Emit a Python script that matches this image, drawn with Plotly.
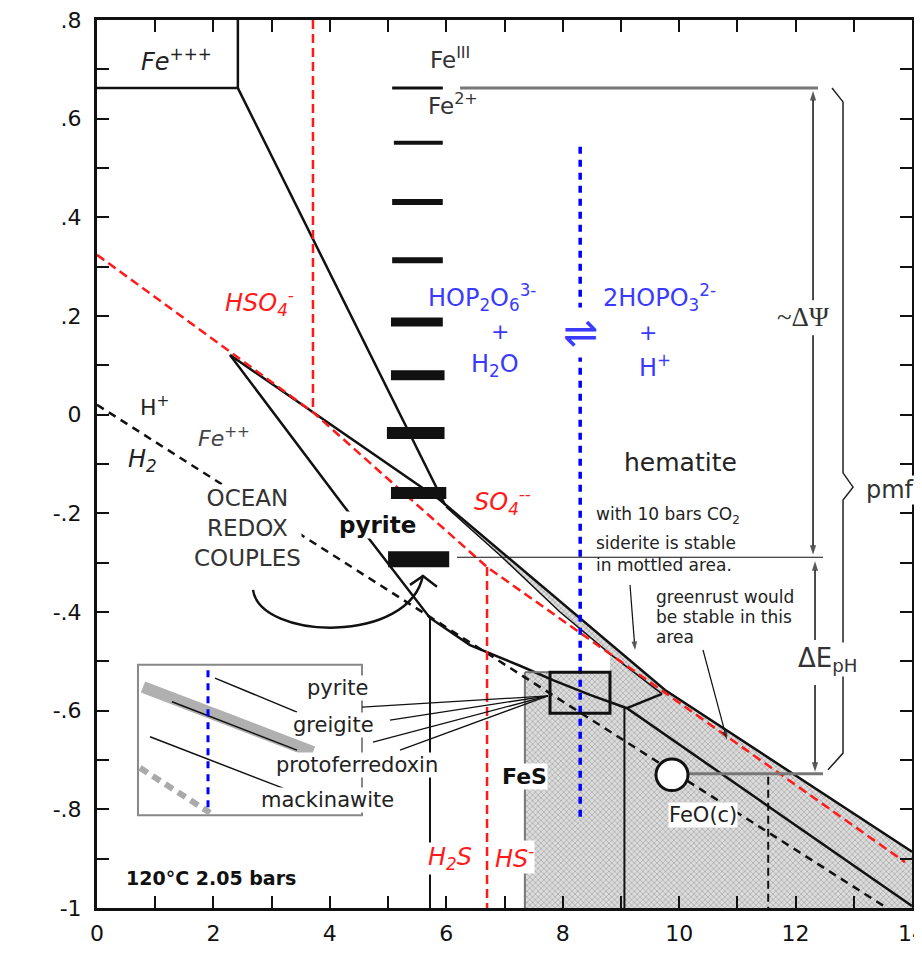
import plotly.graph_objects as go

# ---------------- data (x = pH, y = Eh / volts) ----------------
fe3_box_ph = [0.0, 2.42, 2.42]
fe3_box_eh = [0.662, 0.662, 0.80]

fe2_hem_ph = [2.42, 5.98]
fe2_hem_eh = [0.662, -0.183]

upper_ph = [2.285, 5.892, 9.757, 14.0]
upper_eh = [0.121, -0.173, -0.558, -0.886]

lower_ph = [2.285, 4.226, 5.72, 6.407, 7.266, 7.833, 8.469, 9.104, 14.0]
lower_eh = [0.121, -0.183, -0.412, -0.467, -0.509, -0.538, -0.568, -0.595, -0.996]

band_ph = [5.995, 6.923, 7.953, 8.812, 9.706]
band_eh = [-0.187, -0.285, -0.400, -0.485, -0.566]

kink_ph = [9.104, 9.706]
kink_eh = [-0.595, -0.566]

sulfur_ph = [0.0, 3.71, 6.70, 13.88]
sulfur_eh = [0.324, 0.005, -0.309, -0.907]

water_ph = [0.0, 13.57]
water_eh = [0.020, -1.0]

hatch_ph = [5.995, 9.757, 14.0, 14.0, 7.35, 7.35, 8.812, 8.812, 7.953, 6.923, 5.995]
hatch_eh = [-0.185, -0.558, -0.886, -1.0, -1.0, -0.522, -0.522, -0.485, -0.400, -0.285, -0.187]

pyr_fes_ph = 5.72
pyr_fes_eh = [-0.412, -1.0]
fes_left_ph = 7.35
fes_left_eh = [-0.522, -1.0]
fes_top_ph = [7.35, 7.782]
fes_top_eh = [-0.522, -0.522]
fes_right_ph = 9.06
fes_right_eh = [-0.595, -1.0]
feo_ph = 11.53
feo_eh = [-0.734, -1.0]

hso4_ph = 3.71
hso4_eh = [0.80, 0.005]
h2s_ph = 6.70
h2s_eh = [-0.309, -1.0]
phos_ph = 8.30
phos_eh = [0.543, -0.822]

# potential scale bars
bar_eh = [0.662, 0.551, 0.431, 0.313, 0.188, 0.080, -0.037, -0.159, -0.293]
bar_ph_lo = [5.07, 5.10, 5.07, 5.07, 5.05, 5.05, 4.98, 5.05, 5.00]
bar_ph_hi = [5.94, 5.94, 5.94, 5.94, 5.94, 5.97, 5.97, 6.00, 6.05]
bar_px = [3, 4, 6, 6, 9, 10, 12, 12, 16]

fe2_ref_ph = [6.236, 12.385]
fe2_ref_eh = [0.662, 0.662]
siderite_ref_ph = [6.184, 12.471]
siderite_ref_eh = [-0.289, -0.289]
feo_ref_ph = [9.877, 12.471]
feo_ref_eh = [-0.728, -0.728]

brace_ph = [12.626, 12.815, 12.815, 12.987, 12.815, 12.815, 12.557]
brace_eh = [0.662, 0.634, -0.118, -0.147, -0.173, -0.686, -0.720]

zoom_box_ph = [7.782, 8.812]
zoom_box_eh = [-0.605, -0.522]
inset_ph = [0.704, 4.552]
inset_eh = [-0.812, -0.507]

x_ticks = list(range(0, 15, 2))
x_ticktext = [str(v) for v in x_ticks]
y_ticks = [round(-1 + 0.2 * i, 1) for i in range(10)]


def ylab(v):
    if abs(v) < 1e-9:
        return "0"
    if abs(v) == 1:
        return "-1"
    return f"{v:.1f}".replace("0.", ".")


y_ticktext = [ylab(v) for v in y_ticks]

BLACK = "#111111"
RED = "#ff1a1a"
BLUE = "#0000ff"
TBLUE = "#3a3aff"
FONT = "DejaVu Sans"

fig = go.Figure()


def line(x, y, color=BLACK, width=2.5, dash=None):
    fig.add_trace(go.Scatter(x=x, y=y, mode="lines", hoverinfo="skip",
                             line=dict(color=color, width=width, dash=dash)))


def arrow(x, y, ax, ay, width=1.5, size=10):
    fig.add_trace(go.Scatter(x=[ax, x], y=[ay, y], mode="lines+markers", hoverinfo="skip",
                             line=dict(color=BLACK, width=width),
                             marker=dict(symbol="arrow", angleref="previous", size=[0, size],
                                         color=BLACK, line=dict(width=0))))


# hatched (mottled) region
fig.add_trace(go.Scatter(x=hatch_ph, y=hatch_eh, mode="lines", fill="toself",
                         fillcolor="#d8d8d8", line=dict(width=0), hoverinfo="skip",
                         fillpattern=dict(shape="x", fgcolor="#7a7a7a", bgcolor="#dcdcdc",
                                          size=4, solidity=0.35)))

# boundaries
line(fe3_box_ph, fe3_box_eh)
line(fe2_hem_ph, fe2_hem_eh)
line(upper_ph, upper_eh)
line(lower_ph, lower_eh)
line(band_ph, band_eh, width=1.5)
line(kink_ph, kink_eh)
line([pyr_fes_ph] * 2, pyr_fes_eh, width=2)
line([fes_left_ph] * 2, fes_left_eh, color="#777777", width=2)
line(fes_top_ph, fes_top_eh, color="#777777", width=2)
line([fes_right_ph] * 2, fes_right_eh, width=2)
line([feo_ph] * 2, feo_eh, width=2, dash="8px,5px")

line(water_ph, water_eh, width=2.5, dash="8px,6px")
line(sulfur_ph, sulfur_eh, color=RED, width=2.5, dash="9px,5px")
line([hso4_ph] * 2, hso4_eh, color=RED, width=2.5, dash="9px,5px")
line([h2s_ph] * 2, h2s_eh, color=RED, width=2.5, dash="9px,5px")
line([phos_ph] * 2, phos_eh, color=BLUE, width=3.5, dash="7px,6px")

# reference lines
line(fe2_ref_ph, fe2_ref_eh, color="#777777", width=3)
line(siderite_ref_ph, siderite_ref_eh, width=1.2)
line(feo_ref_ph, feo_ref_eh, color="#777777", width=3)
line(brace_ph, brace_eh, color="#222222", width=1.5)

# scale bars
for e, lo, hi, w in zip(bar_eh, bar_ph_lo, bar_ph_hi, bar_px):
    line([lo, hi], [e, e], width=w)

# inset
inset_gray_band = ([0.790, 3.710], [-0.552, -0.684])
inset_black = ([1.288, 3.436], [-0.582, -0.680])
inset_thin = ([0.910, 3.195], [-0.653, -0.757])
inset_ptr = ([2.027, 3.436], [-0.534, -0.603])
inset_gdash = ([0.739, 1.941], [-0.716, -0.807])
inset_blue = ([1.907, 1.907], [-0.518, -0.801])
line(*inset_gray_band, color="#b0b0b0", width=12)
line(*inset_black, width=1.5)
line(*inset_thin, width=1.5)
line(*inset_ptr, width=1.5)
line(*inset_gdash, color="#aaaaaa", width=6, dash="9px,6px")
line(*inset_blue, color=BLUE, width=3, dash="7px,6px")

conv = (7.747, -0.570)
ptr_starts = [(4.552, -0.593), (5.033, -0.619), (4.741, -0.664), (5.205, -0.680)]
for sx, sy in ptr_starts:
    line([sx, conv[0]], [sy, conv[1]], width=1.3)

# curved arrow chevron
line([5.377, 5.600, 5.840], [-0.345, -0.327, -0.349], width=2.5)

# arrows
arrow(12.30, 0.656, 12.30, 0.232)
arrow(12.30, -0.284, 12.30, 0.161)
arrow(12.334, -0.297, 12.334, -0.457)
arrow(12.334, -0.724, 12.334, -0.548)
arrow(9.242, -0.477, 9.156, -0.345, width=1.2, size=9)
arrow(10.822, -0.659, 10.41, -0.477, width=1.2, size=9)

shapes = [
    dict(type="rect", xref="x", yref="y", x0=zoom_box_ph[0], x1=zoom_box_ph[1],
         y0=zoom_box_eh[0], y1=zoom_box_eh[1], line=dict(color=BLACK, width=3)),
    dict(type="rect", xref="x", yref="y", x0=inset_ph[0], x1=inset_ph[1],
         y0=inset_eh[0], y1=inset_eh[1], line=dict(color="#888888", width=2), layer="below"),
    dict(type="circle", xref="x", yref="y", x0=9.602, x1=10.152, y0=-0.762, y1=-0.698,
         fillcolor="white", line=dict(color=BLACK, width=3)),
    dict(type="path", xref="x", yref="y",
         path="M 2.680,-0.355 C 2.800,-0.457 5.377,-0.467 5.600,-0.325",
         line=dict(color=BLACK, width=2.5)),
]

ann = []


def txt(x, y, t, size=20, color="#222222", family=FONT, bg=None, xanchor="center", yanchor="middle"):
    d = dict(x=x, y=y, xref="x", yref="y", text=t, showarrow=False,
             font=dict(family=family, size=size, color=color),
             xanchor=xanchor, yanchor=yanchor, borderpad=0)
    if bg:
        d["bgcolor"] = bg
    ann.append(d)


txt(1.374, 0.719, "<i>Fe<sup>+++</sup></i>", 24)
txt(6.064, 0.723, "Fe<sup>III</sup>", 23, "#333333")
txt(6.115, 0.630, "Fe<sup>2+</sup>", 23, "#333333")
txt(2.783, 0.228, "<i>HSO<sub>4</sub><sup>-</sup></i>", 24, RED)
txt(6.614, 0.238, "HOP<sub>2</sub>O<sub>6</sub><sup>3-</sup>", 24, TBLUE)
txt(6.923, 0.168, "+", 22, TBLUE)
txt(6.837, 0.099, "H<sub>2</sub>O", 24, TBLUE)
txt(8.297, 0.166, "⇌", 42, TBLUE, bg="white")
txt(9.671, 0.238, "2HOPO<sub>3</sub><sup>2-</sup>", 24, TBLUE)
txt(9.465, 0.166, "+", 22, TBLUE)
txt(9.585, 0.099, "H<sup>+</sup>", 24, TBLUE)
txt(12.128, 0.198, "~ΔΨ", 27, "#333333", family="Liberation Serif", bg="white")
txt(13.622, -0.153, "pmf", 24, "#333333", bg="white")
txt(12.54, -0.497, "ΔE<sub>pH</sub>", 26, "#333333", bg="white")
txt(10.015, -0.096, "hematite", 25, "#222222")
txt(6.957, -0.177, "<i>SO<sub>4</sub><sup>--</sup></i>", 24, RED)
txt(8.555, -0.205, "with 10 bars CO<sub>2</sub>", 17, xanchor="left")
txt(8.555, -0.260, "siderite is stable", 17, xanchor="left")
txt(8.555, -0.305, "in mottled area.", 17, xanchor="left")
txt(9.585, -0.370, "greenrust would", 17, xanchor="left")
txt(9.585, -0.410, "be stable in this", 17, xanchor="left")
txt(9.585, -0.451, "area", 17, xanchor="left")
txt(4.81, -0.224, "<b>pyrite</b>", 23, "#111111", bg="white")
txt(2.577, -0.230, "OCEAN<br>REDOX<br>COUPLES", 23, "#333333", bg="white")
txt(0.996, 0.018, "H<sup>+</sup>", 22, "#222222")
txt(0.790, -0.092, "<i>H<sub>2</sub></i>", 24, "#222222")
txt(2.182, -0.045, "<i>Fe<sup>++</sup></i>", 22, "#444444")
txt(-0.893, 0.133, "<b>Eh</b>", 21, "#111111")
txt(-0.928, 0.058, "<b>(volts)</b>", 20, "#111111")
txt(0.481, -0.939, "<b>120°C 2.05 bars</b>", 19, "#111111", xanchor="left")
txt(7.335, -0.734, "<b>FeS</b>", 22, "#111111", bg="white")
txt(6.064, -0.899, "<i>H<sub>2</sub>S</i>", 24, RED, bg="white")
txt(7.180, -0.897, "<i>HS<sup>-</sup></i>", 24, RED, bg="white")
txt(10.41, -0.812, "FeO(c)", 21, "#222222", bg="white")
txt(4.123, -0.554, "pyrite", 21, "#222222", bg="white")
txt(4.054, -0.629, "greigite", 21, "#222222", bg="white")
txt(4.466, -0.710, "protoferredoxin", 21, "#222222", bg="white")
txt(3.951, -0.781, "mackinawite", 21, "#222222", bg="white")
txt(8.9, -1.091, "<b>pH</b>", 22, "#111111")

tick_minor_x = dict(tickmode="linear", tick0=0, dtick=1, ticks="inside", ticklen=12,
                    tickwidth=2, tickcolor=BLACK)
tick_minor_y = dict(tickmode="linear", tick0=0, dtick=0.1, ticks="inside", ticklen=12,
                    tickwidth=2, tickcolor=BLACK)

fig.update_layout(
    width=914, height=961, autosize=False,
    margin=dict(l=89, r=10, t=12, b=61, autoexpand=False),
    paper_bgcolor="white", plot_bgcolor="white",
    showlegend=False, shapes=shapes, annotations=ann,
    font=dict(family=FONT, color="#111111"),
    xaxis=dict(range=[0, 14], tickmode="array", tickvals=x_ticks, ticktext=x_ticktext,
               ticks="inside", ticklen=12, tickwidth=2, tickcolor=BLACK, minor=tick_minor_x,
               showline=True, linewidth=3, linecolor=BLACK, mirror="ticks", automargin=False,
               showgrid=False, zeroline=False, ticklabeloverflow="allow",
               tickfont=dict(size=22, family=FONT, color="#111111"), ticklabelstandoff=4),
    yaxis=dict(range=[-1, 0.8], tickmode="array", tickvals=y_ticks, ticktext=y_ticktext,
               ticks="inside", ticklen=12, tickwidth=2, tickcolor=BLACK, minor=tick_minor_y,
               showline=True, linewidth=3, linecolor=BLACK, mirror="ticks", automargin=False,
               showgrid=False, zeroline=False, ticklabeloverflow="allow",
               tickfont=dict(size=22, family=FONT, color="#111111"), ticklabelstandoff=8),
)

fig.write_html("out.html")
